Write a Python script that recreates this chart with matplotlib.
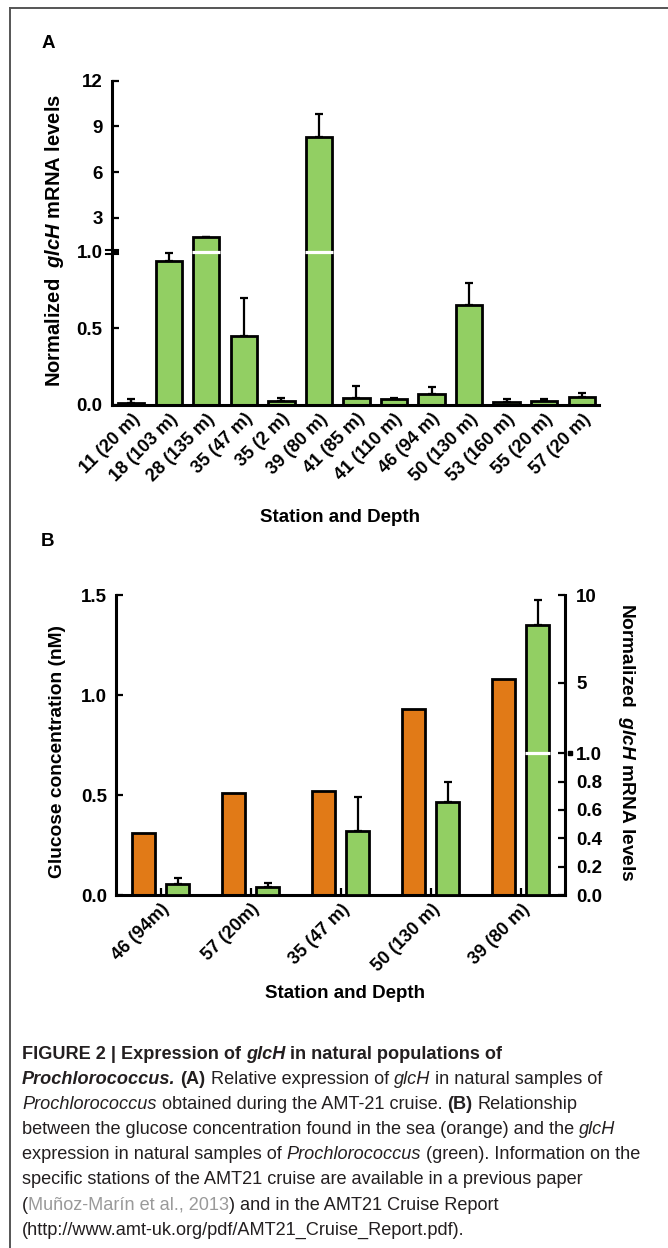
import numpy as np
import matplotlib
matplotlib.use('Agg')
import matplotlib.pyplot as plt
import matplotlib.transforms as mtransforms
from matplotlib.lines import Line2D

plt.rcParams['font.family'] = ['Liberation Sans', 'DejaVu Sans']
plt.rcParams['mathtext.fontset'] = 'custom'
plt.rcParams['mathtext.rm'] = 'Liberation Sans:bold'
plt.rcParams['mathtext.it'] = 'Liberation Sans:italic:bold'

# panel A: relative glcH expression, AMT-21 stations
stations_a = ['11 (20 m)', '18 (103 m)', '28 (135 m)', '35 (47 m)', '35 (2 m)',
              '39 (80 m)', '41 (85 m)', '41 (110 m)', '46 (94 m)', '50 (130 m)',
              '53 (160 m)', '55 (20 m)', '57 (20 m)']
glch_a = [0.01, 0.94, 1.85, 0.45, 0.028, 8.32, 0.043, 0.035, 0.072, 0.655, 0.017, 0.022, 0.054]
glch_a_err = [0.03, 0.05, 0.0, 0.25, 0.015, 1.47, 0.077, 0.011, 0.043, 0.142, 0.024, 0.017, 0.026]

# panel B: glucose (left axis) vs glcH expression (right axis)
stations_b = ['46 (94m)', '57 (20m)', '35 (47 m)', '50 (130 m)', '39 (80 m)']
glucose_b = [0.308, 0.508, 0.52, 0.93, 1.08]
glch_b = [0.075, 0.058, 0.454, 0.656, 8.32]
glch_b_err = [0.047, 0.029, 0.24, 0.139, 1.39]

GREEN = '#92CF63'
ORANGE = '#E17A17'
W, H = 668, 1248
TICK_FS = 13.5
XTICK_FS = 13
LABEL_FS = 13.5


def px_box(l, t, r, b):
    return [l / W, 1 - b / H, (r - l) / W, (b - t) / H]


def broken_scale(kv, kp):
    # piecewise linear axis (GraphPad style segmented axis)
    kv = np.asarray(kv, float)
    kp = np.asarray(kp, float)

    def make(a, b):
        s0 = (b[1] - b[0]) / (a[1] - a[0])
        s1 = (b[-1] - b[-2]) / (a[-1] - a[-2])

        def f(v):
            v = np.asarray(v, float)
            out = np.interp(v, a, b)
            out = np.where(v < a[0], b[0] + (v - a[0]) * s0, out)
            out = np.where(v > a[-1], b[-1] + (v - a[-1]) * s1, out)
            return out
        return f
    return make(kv, kp), make(kp, kv)


def style_axis(ax, spines):
    for side in ['left', 'right', 'top', 'bottom']:
        ax.spines[side].set_visible(side in spines)
        ax.spines[side].set_linewidth(2.2)


fig = plt.figure(figsize=(W / 100, H / 100), dpi=100)

# frame lines of the figure page
fig.add_artist(Line2D([10 / W, 1], [1 - 8 / H, 1 - 8 / H], color='#555555', lw=1.4))
fig.add_artist(Line2D([10 / W, 10 / W], [0, 1 - 8 / H], color='#555555', lw=1.4))

# ---------------- panel A ----------------
axA = fig.add_axes(px_box(111.7, 80.7, 599.3, 404.8))
axA.set_yscale('function', functions=broken_scale([0, 1, 3, 12], [0, 152.6, 186.6, 323.6]))
xa = np.arange(len(stations_a))
axA.bar(xa, glch_a, width=0.7, color=GREEN, edgecolor='black', linewidth=2.0, zorder=2)
axA.errorbar(xa, glch_a, yerr=[np.zeros(len(xa)), glch_a_err], fmt='none',
             ecolor='black', elinewidth=1.6, capsize=3, capthick=1.6, zorder=1)
for xi, v in zip(xa, glch_a):
    if v > 1:
        axA.hlines(1.0, xi - 0.37, xi + 0.37, color='white', lw=2.3, zorder=3)
axA.set_xlim(-0.52, 12.47)
axA.set_ylim(0, 12)
style_axis(axA, ['left', 'bottom'])
axA.set_yticks([0, 0.5, 1.0, 3, 6, 9, 12])
axA.set_yticklabels(['0.0', '0.5', '1.0', '3', '6', '9', '12'])
axA.set_xticks(xa)
axA.set_xticklabels(stations_a, rotation=45, ha='right', rotation_mode='anchor')
axA.tick_params(axis='y', direction='in', length=5, width=1.6, labelsize=TICK_FS, pad=6.5)
axA.tick_params(axis='x', direction='in', length=5, width=1.6, labelsize=XTICK_FS, pad=4)
for lab in axA.get_xticklabels() + axA.get_yticklabels():
    lab.set_fontweight('bold')
trA = mtransforms.blended_transform_factory(axA.transAxes, axA.transData)
for dy in (-1.6, 1.6):
    off = mtransforms.ScaledTranslation(0, dy / 72, fig.dpi_scale_trans)
    axA.plot([-0.011, 0.013], [1.0, 1.0], transform=trA + off, color='black',
             lw=1.5, clip_on=False, zorder=5)

fig.text(55 / W, 1 - 240 / H, 'Normalized  $glcH$ mRNA levels', rotation=90,
         ha='center', va='center', fontsize=14.5, fontweight='bold')
fig.text(340 / W, 1 - 517 / H, 'Station and Depth', ha='center', va='center',
         fontsize=LABEL_FS, fontweight='bold')
fig.text(48 / W, 1 - 43.5 / H, 'A', ha='center', va='center', fontsize=13.5, fontweight='bold')
fig.text(48 / W, 1 - 541.5 / H, 'B', ha='center', va='center', fontsize=13.5, fontweight='bold')

# ---------------- panel B ----------------
axB = fig.add_axes(px_box(115.7, 595, 565, 895))
xb = np.arange(len(stations_b))
shift, bw = 0.189, 0.256
axB.bar(xb - shift, glucose_b, width=bw, color=ORANGE, edgecolor='black', linewidth=2.0, zorder=2)
axB.set_xlim(-0.503, 4.49)
axB.set_ylim(0, 1.5)
axB.set_yticks([0, 0.5, 1.0, 1.5])
axB.set_yticklabels(['0.0', '0.5', '1.0', '1.5'])
axB.set_xticks(xb)
axB.set_xticklabels(stations_b, rotation=45, ha='right', rotation_mode='anchor')
style_axis(axB, ['left', 'bottom'])
axB.tick_params(axis='y', direction='in', length=5, width=1.6, labelsize=TICK_FS, pad=6)
axB.tick_params(axis='x', direction='in', length=5, width=1.6, labelsize=XTICK_FS, pad=4)

axB2 = axB.twinx()
axB2.set_yscale('function', functions=broken_scale([0, 1, 10], [0, 141.7, 300]))
axB2.bar(xb + shift, glch_b, width=bw, color=GREEN, edgecolor='black', linewidth=2.0, zorder=2)
axB2.errorbar(xb + shift, glch_b, yerr=[np.zeros(len(xb)), glch_b_err], fmt='none',
              ecolor='black', elinewidth=1.6, capsize=3, capthick=1.6, zorder=1)
for xi, v in zip(xb + shift, glch_b):
    if v > 1:
        axB2.hlines(1.0, xi - bw / 2 - 0.01, xi + bw / 2 + 0.01, color='white', lw=2.3, zorder=3)
axB2.set_ylim(0, 10)
axB2.set_yticks([0, 0.2, 0.4, 0.6, 0.8, 1.0, 5, 10])
axB2.set_yticklabels(['0.0', '0.2', '0.4', '0.6', '0.8', '1.0', '5', '10'])
style_axis(axB2, ['right'])
axB2.tick_params(axis='y', direction='in', length=5, width=1.6, labelsize=TICK_FS, pad=8)
for lab in axB.get_xticklabels() + axB.get_yticklabels() + axB2.get_yticklabels():
    lab.set_fontweight('bold')
trB = mtransforms.blended_transform_factory(axB2.transAxes, axB2.transData)
offB = mtransforms.ScaledTranslation(3.5 / 72, 0, fig.dpi_scale_trans)
axB2.plot([1.0], [1.0], marker='s', ms=3.2, color='black', transform=trB + offB,
          clip_on=False, zorder=5)

fig.text(57 / W, 1 - 751 / H, 'Glucose concentration (nM)', rotation=90,
         ha='center', va='center', fontsize=13.8, fontweight='bold')
fig.text(627 / W, 1 - 742 / H, 'Normalized  $glcH$ mRNA levels', rotation=270,
         ha='center', va='center', fontsize=13.8, fontweight='bold')
fig.text(345 / W, 1 - 993 / H, 'Station and Depth', ha='center', va='center',
         fontsize=LABEL_FS, fontweight='bold')

# ---------------- caption ----------------
CAP_FONT = 'Liberation Sans'
STY = {
    'r': dict(),
    'i': dict(style='italic'),
    'b': dict(fontweight='bold'),
    'bi': dict(fontweight='bold', style='italic'),
    'g': dict(color='#9a9a9a'),
}
caption = [
    [('FIGURE 2 | Expression of ', 'b'), ('glcH', 'bi'), (' in natural populations of', 'b')],
    [('Prochlorococcus.', 'bi'), (' (A)', 'b'), (' Relative expression of ', 'r'), ('glcH', 'i'),
     (' in natural samples of', 'r')],
    [('Prochlorococcus', 'i'), (' obtained during the AMT-21 cruise. ', 'r'), ('(B)', 'b'),
     (' Relationship', 'r')],
    [('between the glucose concentration found in the sea (orange) and the ', 'r'), ('glcH', 'i')],
    [('expression in natural samples of ', 'r'), ('Prochlorococcus', 'i'),
     (' (green). Information on the', 'r')],
    [('specific stations of the AMT21 cruise are available in a previous paper', 'r')],
    [('(', 'r'), ('Muñoz-Marín et al., 2013', 'g'), (')', 'r'), (' and in the AMT21 Cruise Report', 'r')],
    [('(http://www.amt-uk.org/pdf/AMT21_Cruise_Report.pdf).', 'r')],
]
renderer = fig.canvas.get_renderer()


def text_w(s, size, sty):
    t = fig.text(0, 0, s, fontsize=size, family=CAP_FONT, **STY[sty])
    w = t.get_window_extent(renderer).width
    t.remove()
    return w


def draw_line(runs, x, y, size, draw=True):
    space = text_w('x x', size, 'r') - text_w('xx', size, 'r')
    for s, sty in runs:
        core = s.strip(' ')
        lead = len(s) - len(s.lstrip(' '))
        trail = len(s) - len(s.rstrip(' '))
        x += lead * space
        if draw:
            fig.text(x / W, 1 - y / H, core, fontsize=size, family=CAP_FONT,
                     color=STY[sty].get('color', '#231f20'), ha='left', va='baseline',
                     **{k: v for k, v in STY[sty].items() if k != 'color'})
        x += text_w(core, size, sty) + trail * space
    return x


cap_size = 12.0
w5 = draw_line(caption[4], 0, 0, cap_size, draw=False)
cap_size = cap_size * 622 / w5
for i, runs in enumerate(caption):
    draw_line(runs, 22, 1059 + 25.1 * i, cap_size)

fig.savefig('out.png', dpi=100)
